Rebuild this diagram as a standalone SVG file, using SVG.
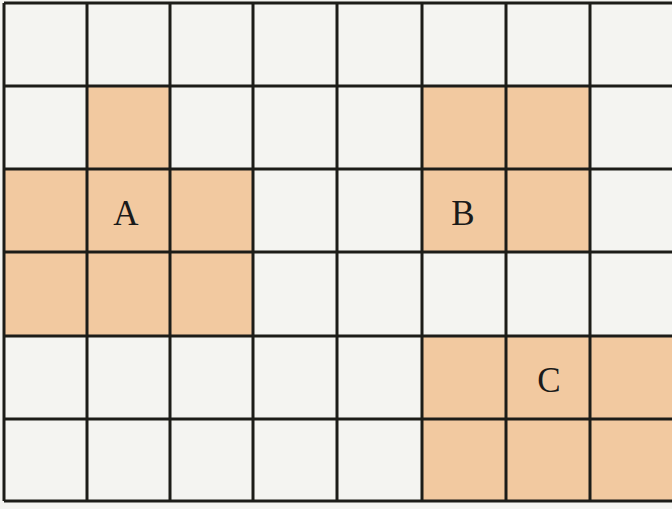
<svg xmlns="http://www.w3.org/2000/svg" width="672" height="509" viewBox="0 0 672 509">
<style>
.c{fill:#f2c9a0}
.g{stroke:#1c1c18;stroke-width:3;fill:none}
.t{font-family:"Liberation Serif",serif;font-size:35px;fill:#1a1a1a;text-anchor:middle}
</style>
<rect width="672" height="509" fill="#f4f4f1"/>
<g id="cells">
<rect class="c" x="87" y="86" width="83" height="83"/>
<rect class="c" x="4" y="169" width="249" height="167"/>
<rect class="c" x="422" y="86" width="168" height="167"/>
<rect class="c" x="422" y="336" width="250" height="165"/>
</g>
<g id="grid" class="g">
<path d="M4 3V501M87 3V501M170 3V501M253 3V501M337 3V501M422 3V501M506 3V501M590 3V501"/>
<path d="M4 3H672M4 86H672M4 169H672M4 252H672M4 336H672M4 419H672M4 501H672"/>
</g>
<g id="A"><text class="t" x="126" y="225">A</text></g>
<g id="B"><text class="t" x="463" y="225">B</text></g>
<g id="C"><text class="t" x="549" y="392">C</text></g>
</svg>
